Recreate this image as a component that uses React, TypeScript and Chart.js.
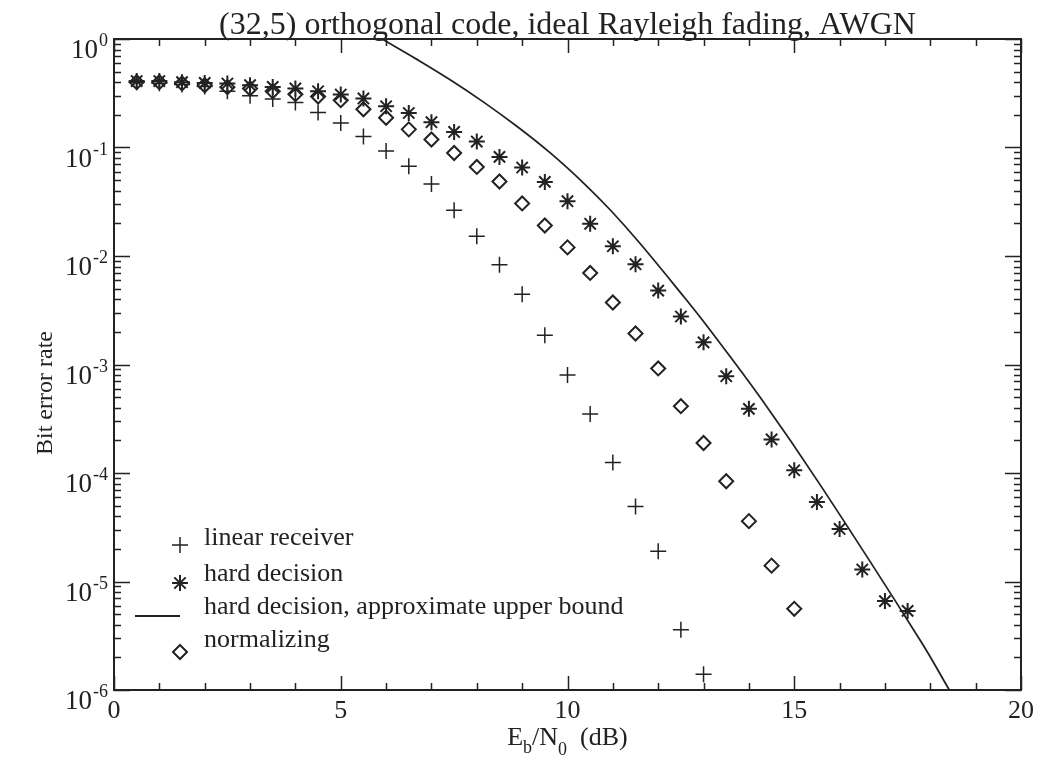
import React, { useEffect, useRef } from 'react';
import { Chart, registerables } from 'chart.js';

Chart.register(...registerables);

// ---------- data ----------
const titleText = '(32,5) orthogonal code, ideal Rayleigh fading, AWGN';
const yAxisTitle = 'Bit error rate';
const seriesNames = [
  'linear receiver',
  'hard decision',
  'hard decision, approximate upper bound',
  'normalizing',
];

const linearX = [0.5, 1, 1.5, 2, 2.5, 3, 3.5, 4, 4.5, 5, 5.5, 6, 6.5, 7, 7.5, 8, 8.5, 9, 9.5, 10, 10.5, 11, 11.5, 12, 12.5, 13];
const linearY = [0.40, 0.39, 0.38, 0.365, 0.33, 0.30, 0.28, 0.26, 0.21, 0.168, 0.126, 0.093, 0.067, 0.046, 0.0264, 0.0152, 0.0083, 0.00445, 0.00186, 8.0e-4, 3.5e-4, 1.25e-4, 4.9e-5, 1.9e-5, 3.6e-6, 1.4e-6];

const hardX = [0.5, 1, 1.5, 2, 2.5, 3, 3.5, 4, 4.5, 5, 5.5, 6, 6.5, 7, 7.5, 8, 8.5, 9, 9.5, 10, 10.5, 11, 11.5, 12, 12.5, 13, 13.5, 14, 14.5, 15, 15.5, 16, 16.5, 17, 17.5];
const hardY = [0.41, 0.41, 0.40, 0.394, 0.389, 0.375, 0.362, 0.35, 0.33, 0.308, 0.283, 0.24, 0.208, 0.171, 0.139, 0.1135, 0.0819, 0.0654, 0.0482, 0.032, 0.0198, 0.0123, 0.0084, 0.0048, 0.00277, 0.0016, 7.8e-4, 3.9e-4, 2.04e-4, 1.06e-4, 5.4e-5, 3.05e-5, 1.29e-5, 6.6e-6, 5.36e-6];

const boundX = [5.91, 6.68, 7.42, 8.15, 8.89, 9.62, 10.36, 10.95, 11.61, 12.57, 13.08, 14.26, 15.58, 17.79, 18.42];
const boundY = [1.0, 0.649, 0.419, 0.262, 0.156, 0.0891, 0.0468, 0.0264, 0.0129, 0.00419, 0.00225, 4.91e-4, 7.69e-5, 2.82e-6, 1.0e-6];

const normX = [0.5, 1, 1.5, 2, 2.5, 3, 3.5, 4, 4.5, 5, 5.5, 6, 6.5, 7, 7.5, 8, 8.5, 9, 9.5, 10, 10.5, 11, 11.5, 12, 12.5, 13, 13.5, 14, 14.5, 15];
const normY = [0.40, 0.40, 0.39, 0.375, 0.36, 0.35, 0.33, 0.31, 0.295, 0.273, 0.225, 0.188, 0.147, 0.1185, 0.089, 0.0662, 0.0486, 0.0305, 0.0191, 0.012, 0.00698, 0.00373, 0.00193, 9.2e-4, 4.13e-4, 1.89e-4, 8.4e-5, 3.6e-5, 1.4e-5, 5.6e-6];

const xTickValues = [0, 5, 10, 15, 20];
const xTickLabels = ['0', '5', '10', '15', '20'];
const yDecadeValues = [1, 1e-1, 1e-2, 1e-3, 1e-4, 1e-5, 1e-6];
const yDecadeExponents = ['0', '-1', '-2', '-3', '-4', '-5', '-6'];

// ---------- style ----------
const FONT = '"Liberation Serif", "Times New Roman", Times, serif';
const INK = '#222222';

const toPoints = (xs: number[], ys: number[]) => xs.map((x, i) => ({ x, y: ys[i] }));

function drawMarker(ctx: CanvasRenderingContext2D, kind: string, x: number, y: number) {
  ctx.save();
  ctx.strokeStyle = INK;
  ctx.beginPath();
  if (kind === 'cross') {
    const r = 8;
    ctx.lineWidth = 1.5;
    ctx.moveTo(x - r, y); ctx.lineTo(x + r, y);
    ctx.moveTo(x, y - r); ctx.lineTo(x, y + r);
  } else if (kind === 'star') {
    const r = 8;
    const d = r * Math.SQRT1_2;
    ctx.lineWidth = 2;
    ctx.moveTo(x - r, y); ctx.lineTo(x + r, y);
    ctx.moveTo(x, y - r); ctx.lineTo(x, y + r);
    ctx.moveTo(x - d, y - d); ctx.lineTo(x + d, y + d);
    ctx.moveTo(x - d, y + d); ctx.lineTo(x + d, y - d);
  } else if (kind === 'line') {
    ctx.lineWidth = 1.8;
    ctx.moveTo(x - 45, y); ctx.lineTo(x, y);
  } else {
    const r = 7;
    ctx.lineWidth = 2;
    ctx.moveTo(x, y - r); ctx.lineTo(x + r, y); ctx.lineTo(x, y + r); ctx.lineTo(x - r, y); ctx.closePath();
  }
  ctx.stroke();
  ctx.restore();
}

const decorPlugin = {
  id: 'decor',
  beforeDatasetsDraw(chart: any) {
    const { ctx, chartArea: a, scales } = chart;
    const xs = scales.x;
    const ys = scales.y;
    ctx.save();
    // tick marks (inward) on all four sides
    ctx.strokeStyle = INK;
    ctx.lineWidth = 1.5;
    ctx.beginPath();
    for (let v = 0; v <= 20; v++) {
      const px = Math.round(xs.getPixelForValue(v)) + 0.5;
      const len = v % 5 === 0 ? 14 : 7;
      ctx.moveTo(px, a.bottom); ctx.lineTo(px, a.bottom - len);
      ctx.moveTo(px, a.top); ctx.lineTo(px, a.top + len);
    }
    for (let e = -6; e <= 0; e++) {
      for (let m = 1; m <= 9; m++) {
        const v = m * Math.pow(10, e);
        if (v > 1.0000001) break;
        const py = Math.round(ys.getPixelForValue(v)) + 0.5;
        const len = m === 1 ? 16 : 7;
        ctx.moveTo(a.left, py); ctx.lineTo(a.left + len, py);
        ctx.moveTo(a.right, py); ctx.lineTo(a.right - len, py);
      }
    }
    ctx.stroke();
    // frame
    ctx.lineWidth = 2;
    ctx.strokeRect(a.left, a.top, a.right - a.left, a.bottom - a.top);

    ctx.fillStyle = INK;
    // title
    ctx.font = `32px ${FONT}`;
    ctx.textAlign = 'center';
    ctx.textBaseline = 'alphabetic';
    ctx.fillText(titleText, (a.left + a.right) / 2, 34);

    // x tick labels
    ctx.font = `26px ${FONT}`;
    xTickValues.forEach((v, i) => {
      ctx.fillText(xTickLabels[i], xs.getPixelForValue(v), 718);
    });

    // y tick labels (10 with superscript exponent)
    yDecadeValues.forEach((v, i) => {
      const py = ys.getPixelForValue(v);
      ctx.font = `18px ${FONT}`;
      const expW = ctx.measureText(yDecadeExponents[i]).width;
      const right = 108;
      ctx.textAlign = 'right';
      ctx.fillText(yDecadeExponents[i], right, py + 7);
      ctx.font = `27px ${FONT}`;
      ctx.fillText('10', right - expW - 1, py + 19);
    });

    // y axis title
    ctx.save();
    ctx.translate(46, 393);
    ctx.rotate(-Math.PI / 2);
    ctx.textAlign = 'center';
    ctx.textBaseline = 'middle';
    ctx.font = `24px ${FONT}`;
    ctx.fillText(yAxisTitle, 0, 0);
    ctx.restore();

    // x axis title: E_b/N_0  (dB)
    const parts = [
      { t: 'E', s: 26, dy: 0 },
      { t: 'b', s: 18, dy: 8 },
      { t: '/N', s: 26, dy: 0 },
      { t: '0', s: 18, dy: 10 },
      { t: '  (dB)', s: 26, dy: 0 },
    ];
    ctx.textAlign = 'left';
    let total = 0;
    const widths = parts.map((p) => {
      ctx.font = `${p.s}px ${FONT}`;
      const w = ctx.measureText(p.t).width;
      total += w;
      return w;
    });
    let cx = (a.left + a.right) / 2 - total / 2;
    parts.forEach((p, i) => {
      ctx.font = `${p.s}px ${FONT}`;
      ctx.fillText(p.t, cx, 745 + p.dy);
      cx += widths[i];
    });
    ctx.restore();
  },
  afterDatasetsDraw(chart: any) {
    const { ctx } = chart;
    ctx.save();
    const kinds = ['cross', 'star', 'line', 'diamond'];
    const textY = [545, 581, 614, 647];
    const markY = [545, 583, 616, 652];
    ctx.fillStyle = INK;
    ctx.font = `26px ${FONT}`;
    ctx.textAlign = 'left';
    ctx.textBaseline = 'alphabetic';
    seriesNames.forEach((name, i) => {
      drawMarker(ctx, kinds[i], 180, markY[i]);
      ctx.fillText(name, 204, textY[i]);
    });
    ctx.restore();
  },
};

export default function App() {
  const canvasRef = useRef<HTMLCanvasElement | null>(null);

  useEffect(() => {
    document.body.style.margin = '0';
    const canvas = canvasRef.current;
    if (!canvas) return;
    const chart = new Chart(canvas, {
      type: 'scatter',
      data: {
        datasets: [
          {
            label: seriesNames[1],
            data: toPoints(hardX, hardY),
            showLine: false,
            pointStyle: 'star',
            pointRadius: 8,
            borderWidth: 2,
            borderColor: INK,
            backgroundColor: INK,
          },
          {
            label: seriesNames[0],
            data: toPoints(linearX, linearY),
            showLine: false,
            pointStyle: 'cross',
            pointRadius: 8,
            borderWidth: 1.5,
            borderColor: INK,
            backgroundColor: INK,
          },
          {
            label: seriesNames[3],
            data: toPoints(normX, normY),
            showLine: false,
            pointStyle: 'rectRot',
            pointRadius: 7,
            borderWidth: 2,
            borderColor: INK,
            backgroundColor: 'rgba(0,0,0,0)',
          },
          {
            label: seriesNames[2],
            data: toPoints(boundX, boundY),
            showLine: true,
            pointRadius: 0,
            borderWidth: 1.8,
            borderColor: INK,
            backgroundColor: INK,
            tension: 0.4,
          } as any,
        ],
      },
      options: {
        responsive: false,
        animation: false,
        events: [],
        devicePixelRatio: 1,
        layout: { padding: { left: 114, right: 19, top: 39, bottom: 71 } },
        plugins: {
          legend: { display: false },
          tooltip: { enabled: false },
          title: { display: false },
        },
        scales: {
          x: { type: 'linear', min: 0, max: 20, display: false },
          y: { type: 'logarithmic', min: 1e-6, max: 1, display: false },
        },
      },
      plugins: [decorPlugin],
    });
    return () => chart.destroy();
  }, []);

  return (
    <div style={{ position: 'fixed', left: 0, top: 0, width: 1040, height: 761, background: '#ffffff' }}>
      <canvas ref={canvasRef} width={1040} height={761} style={{ display: 'block' }} />
    </div>
  );
}
